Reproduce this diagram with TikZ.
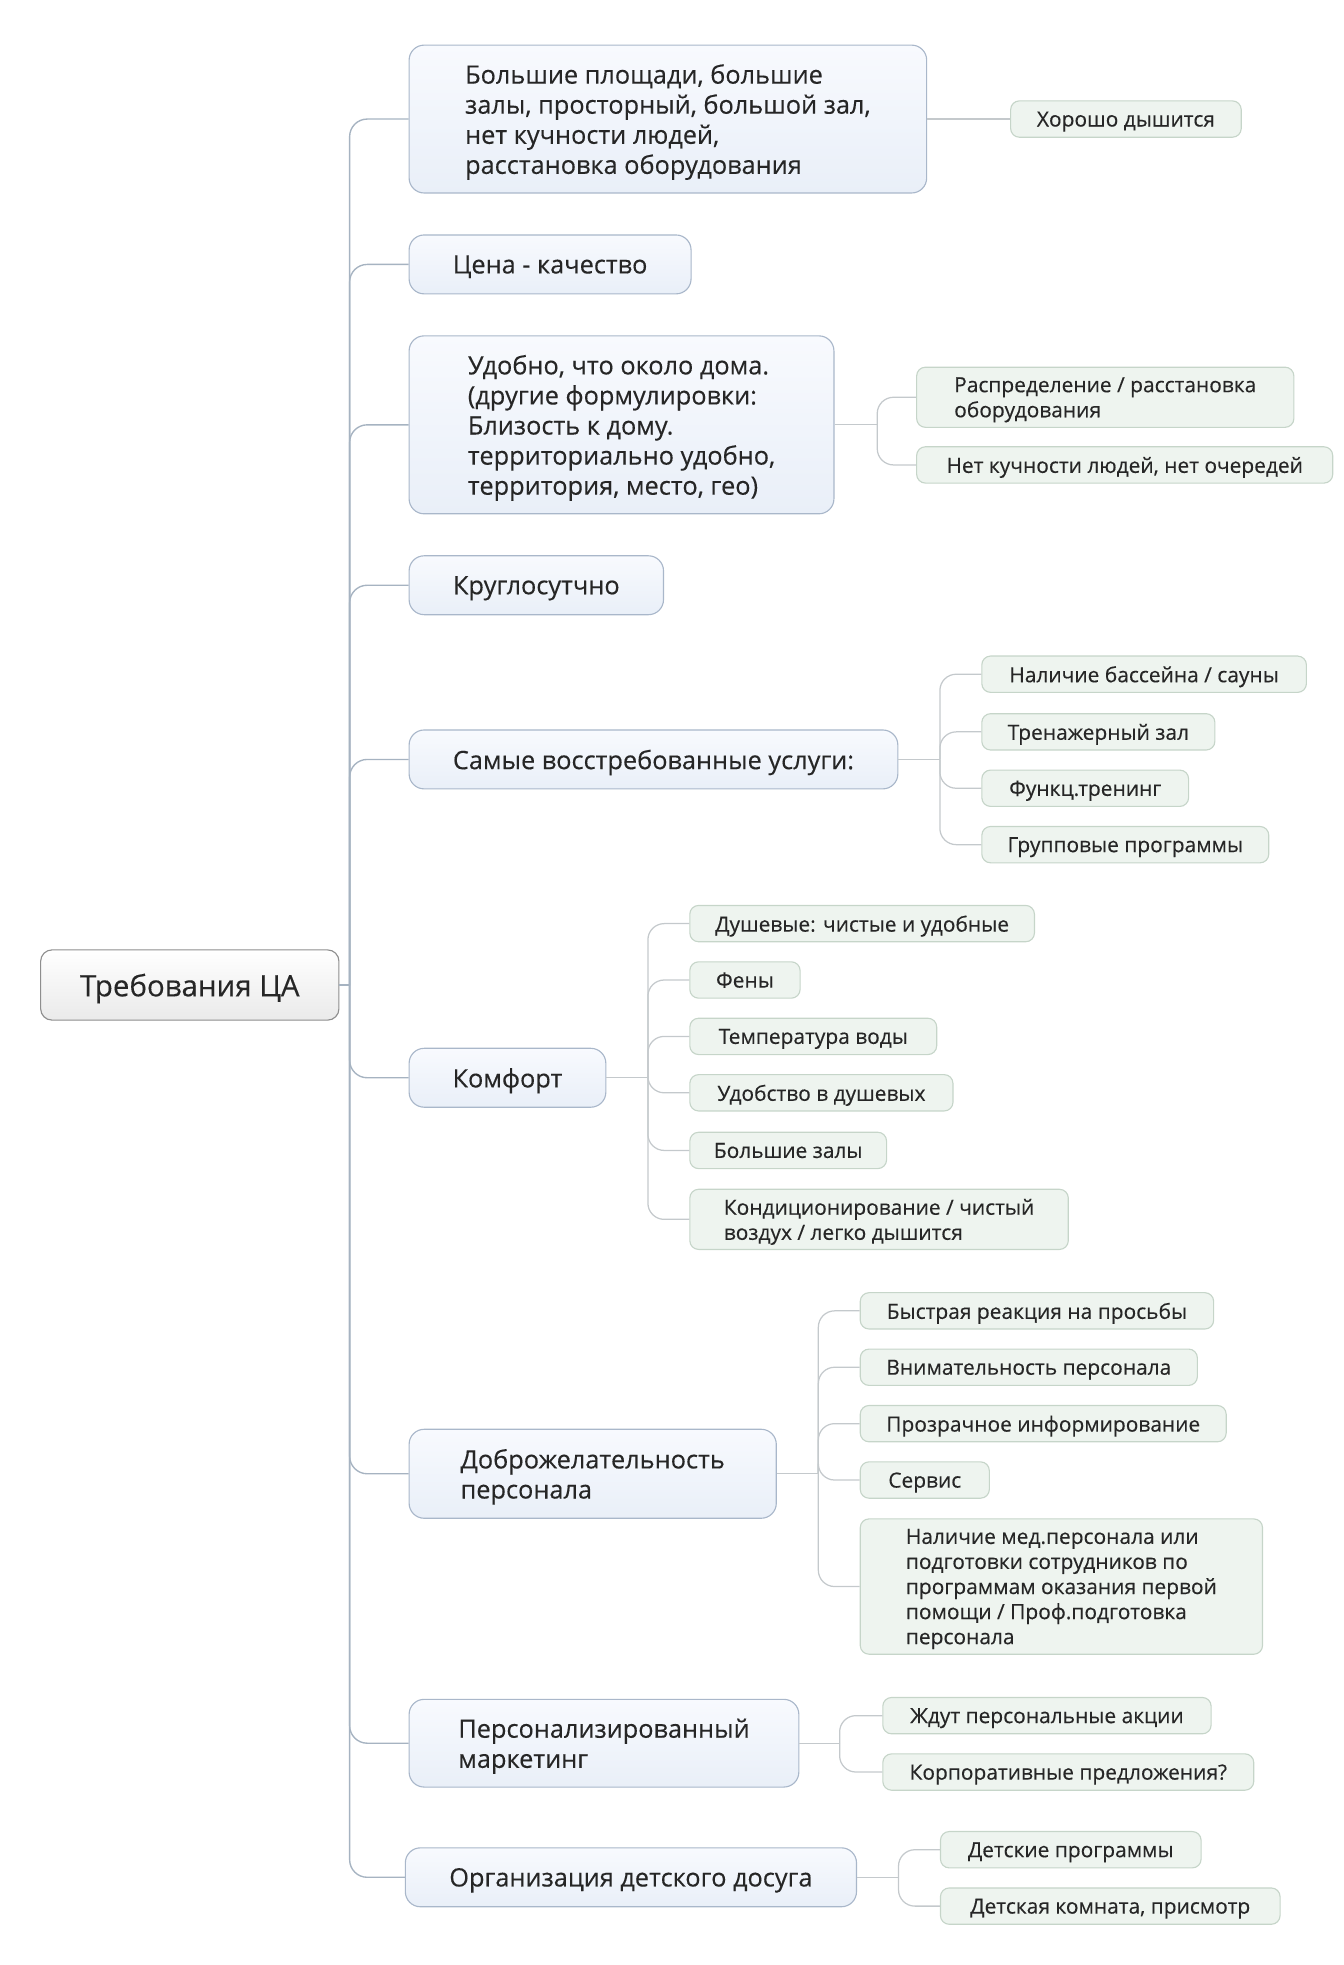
\documentclass[tikz,border=0pt]{standalone}
\usepackage{fontspec}
\setmainfont{Open Sans}[FakeBold=0.3]
\usepackage{xcolor}
\usepackage{tikz}

\definecolor{ink}{HTML}{262626}
\definecolor{rootline}{HTML}{8E8E8E}
\definecolor{rootfill}{HTML}{EAEAEA}
\definecolor{topicline}{HTML}{A9B7CA}
\definecolor{topictop}{HTML}{F8FAFE}
\definecolor{topicfill}{HTML}{E9EFF8}
\definecolor{leafline}{HTML}{C6D5C9}
\definecolor{leaffill}{HTML}{EEF4EF}
\definecolor{linkcol}{HTML}{A6B3C1}
\definecolor{sublinkcol}{HTML}{C4C9CC}

\begin{document}
\begin{tikzpicture}[
    x=1pt, y=-1pt,
    rootbox/.style={draw=rootline, top color=white, bottom color=rootfill, rounded corners=9pt, anchor=west, minimum height=56pt, text depth=0pt, align=center, text=ink, font=\fontsize{23.5}{28}\selectfont, line width=0.9pt},
    topic/.style={draw=topicline, top color=topictop, bottom color=topicfill, rounded corners=12pt, anchor=west, minimum height=47pt, text depth=0pt, align=left, text=ink, font=\fontsize{20.2}{24}\selectfont, line width=0.9pt},
    leaf/.style={draw=leafline, fill=leaffill, rounded corners=7pt, anchor=west, minimum height=29pt, text depth=0pt, align=left, text=ink, font=\fontsize{16.7}{20}\selectfont, line width=0.9pt},
    link/.style={draw=linkcol, line width=1.1pt, rounded corners=14pt},
    sublink/.style={draw=sublinkcol, line width=1pt, rounded corners=13pt}
]
\useasboundingbox (0,0) rectangle (1072,1568);

% Root
\node[rootbox, minimum width=238pt] (root) at (32,786) {Требования ЦА};

% Topics
\node[topic, minimum width=413pt, minimum height=118pt] (t1) at (326,95) {Большие площади, большие\\залы, просторный, большой зал,\\нет кучности людей,\\расстановка оборудования};
\node[topic, minimum width=225pt] (t2) at (326,211) {Цена - качество};
\node[topic, minimum width=339pt, minimum height=142pt] (t3) at (326,339) {Удобно, что около дома.\\(другие формулировки:\\Близость к дому.\\территориально удобно,\\территория, место, гео)};
\node[topic, minimum width=203pt] (t4) at (326,467) {Круглосутчно};
\node[topic, minimum width=390pt] (t5) at (326,606) {Самые восстребованные услуги:};
\node[topic, minimum width=157pt] (t6) at (326,860) {Комфорт};
\node[topic, minimum width=293pt, minimum height=71pt] (t7) at (326,1176) {Доброжелательность\\персонала};
\node[topic, minimum width=311pt, minimum height=70pt] (t8) at (326,1391) {Персонализированный\\маркетинг};
\node[topic, minimum width=360pt] (t9) at (323,1498) {Организация детского досуга};

% Leaves
\node[leaf, minimum width=184pt] (c11) at (806,95) {Хорошо дышится};
\node[leaf, minimum width=301pt, minimum height=48pt] (c31) at (731,317) {Распределение / расстановка\\оборудования};
\node[leaf, minimum width=332pt] (c32) at (731,371) {Нет кучности людей, нет очередей};
\node[leaf, minimum width=259pt] (c51) at (783,538) {Наличие бассейна / сауны};
\node[leaf, minimum width=186pt] (c52) at (783,584) {Тренажерный зал};
\node[leaf, minimum width=165pt] (c53) at (783,629) {Функц.тренинг};
\node[leaf, minimum width=229pt] (c54) at (783,674) {Групповые программы};
\node[leaf, minimum width=275pt] (c61) at (550,737) {Душевые: чистые и удобные};
\node[leaf, minimum width=88pt] (c62) at (550,782) {Фены};
\node[leaf, minimum width=197pt] (c63) at (550,827) {Температура воды};
\node[leaf, minimum width=210pt] (c64) at (550,872) {Удобство в душевых};
\node[leaf, minimum width=157pt] (c65) at (550,918) {Большие залы};
\node[leaf, minimum width=302pt, minimum height=48pt] (c66) at (550,973) {Кондиционирование / чистый\\воздух / легко дышится};
\node[leaf, minimum width=282pt] (c71) at (686,1046) {Быстрая реакция на просьбы};
\node[leaf, minimum width=269pt] (c72) at (686,1091) {Внимательность персонала};
\node[leaf, minimum width=292pt] (c73) at (686,1136) {Прозрачное информирование};
\node[leaf, minimum width=103pt] (c74) at (686,1181) {Сервис};
\node[leaf, minimum width=321pt, minimum height=108pt] (c75) at (686,1266) {Наличие мед.персонала или\\подготовки сотрудников по\\программам оказания первой\\помощи / Проф.подготовка\\персонала};
\node[leaf, minimum width=262pt] (c81) at (704,1369) {Ждут персональные акции};
\node[leaf, minimum width=296pt] (c82) at (704,1414) {Корпоративные предложения?};
\node[leaf, minimum width=208pt] (c91) at (750,1476) {Детские программы};
\node[leaf, minimum width=271pt] (c92) at (750,1521) {Детская комната, присмотр};

% Branch points
\coordinate (trunk) at (279,786);
\coordinate (b3) at (700,339);
\coordinate (b5) at (750,606);
\coordinate (b6) at (517,860);
\coordinate (b7) at (653,1176);
\coordinate (b8) at (670,1391);
\coordinate (b9) at (717,1498);

% Links from root
\draw[link] (root.east) -- (trunk);
\foreach \t in {t1,t2,t3,t4,t5,t6,t7,t8,t9}
    \draw[link] (trunk) |- (\t.west);

% Links to leaves
\draw[sublink] (t1.east) -- (c11.west);

\draw[sublink] (t3.east) -- (b3);
\draw[sublink] (b3) |- (c31.west);
\draw[sublink] (b3) |- (c32.west);

\draw[sublink] (t5.east) -- (b5);
\foreach \c in {c51,c52,c53,c54}
    \draw[sublink] (b5) |- (\c.west);

\draw[sublink] (t6.east) -- (b6);
\foreach \c in {c61,c62,c63,c64,c65,c66}
    \draw[sublink] (b6) |- (\c.west);

\draw[sublink] (t7.east) -- (b7);
\foreach \c in {c71,c72,c73,c74,c75}
    \draw[sublink] (b7) |- (\c.west);

\draw[sublink] (t8.east) -- (b8);
\draw[sublink] (b8) |- (c81.west);
\draw[sublink] (b8) |- (c82.west);

\draw[sublink] (t9.east) -- (b9);
\draw[sublink] (b9) |- (c91.west);
\draw[sublink] (b9) |- (c92.west);

\end{tikzpicture}
\end{document}
